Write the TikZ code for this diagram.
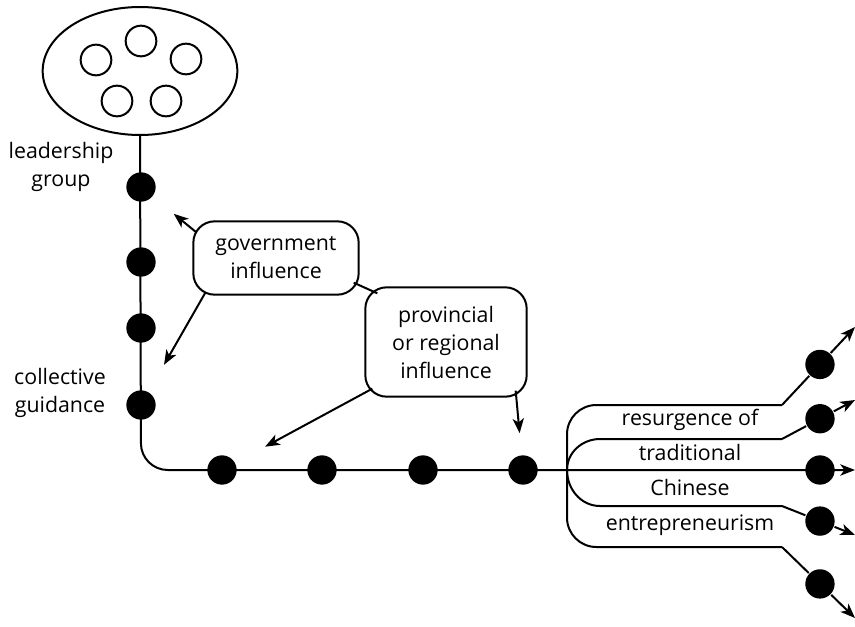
\documentclass[tikz,border=0pt]{standalone}
\usepackage{fontspec}
\setmainfont{Open Sans}
\usepackage{tikz}
\usetikzlibrary{arrows.meta,positioning,calc,shapes.geometric}

\begin{document}
\begin{tikzpicture}[
    x=0.75pt, y=-0.75pt,
    font=\fontsize{16}{21}\selectfont,
    line width=1.5pt,
    dotnode/.style={circle, fill=black, inner sep=0pt, minimum size=22pt},
    ring/.style={circle, draw, inner sep=0pt, minimum size=23pt},
    bubble/.style={draw, rounded corners=16pt, align=center, inner sep=2pt},
    caption/.style={align=center},
    arrow/.style={-{Stealth[length=11pt, width=8.5pt, inset=3pt]}}
  ]
    \useasboundingbox (0,0) rectangle (855,627);

    % leadership group
    \node[ellipse, draw, minimum width=146pt, minimum height=96pt] (group) at (140,71) {};
    \node[ring] (ring1) at (141,41) {};
    \node[ring] (ring2) at (96,60) {};
    \node[ring] (ring3) at (186,59) {};
    \node[ring] (ring4) at (117,101) {};
    \node[ring] (ring5) at (166,101) {};

    % stops on the path
    \node[dotnode] (g1) at (141,187) {};
    \node[dotnode] (g2) at (141,262) {};
    \node[dotnode] (g3) at (141,328) {};
    \node[dotnode] (g4) at (141,405) {};
    \coordinate (corner) at (141,470);
    \node[dotnode] (h1) at (222,470) {};
    \node[dotnode] (h2) at (322,470) {};
    \node[dotnode] (h3) at (423,470) {};
    \node[dotnode] (h4) at (523,470) {};
    \coordinate (split) at (567,470);

    % fan on the right
    \coordinate (bt) at (567,405);
    \coordinate (bb) at (567,547);
    \coordinate (b2) at (600,439);
    \coordinate (b4) at (600,506);
    \coordinate (k1) at (782,405);
    \coordinate (k2) at (782,439);
    \coordinate (k4) at (782,506);
    \coordinate (k5) at (782,547);
    \coordinate (e1) at (855,327);
    \coordinate (e2) at (855,400);
    \coordinate (e3) at (855,470);
    \coordinate (e4) at (855,535);
    \coordinate (e5) at (855,618);
    \node[dotnode] (r1) at ($(k1)!0.52!(e1)$) {};
    \node[dotnode] (r2) at ($(k2)!0.52!(e2)$) {};
    \node[dotnode] (r3) at (820,470) {};
    \node[dotnode] (r4) at ($(k4)!0.52!(e4)$) {};
    \node[dotnode] (r5) at ($(k5)!0.52!(e5)$) {};

    \draw[arrow, rounded corners=20pt] (group.south) -- (corner) -- (e3);
    \draw[rounded corners=22pt] (k1) -- (bt) -- (bb) -- (k5);
    \draw[arrow] (k1) -- (r1) -- (e1);
    \draw[arrow] (k5) -- (r5) -- (e5);
    \draw (split) to[out=90, in=180] (b2) -- (k2);
    \draw[arrow] (k2) -- (r2) -- (e2);
    \draw (split) to[out=-90, in=180] (b4) -- (k4);
    \draw[arrow] (k4) -- (r4) -- (e4);

    % labels
    \node[caption] (lead) at (61,167) {leadership\\group};
    \node[caption] (coll) at (60,393) {collective\\guidance};
    \node[caption, font=\fontsize{16}{26.3}\selectfont] (revival) at (690,472)
      {resurgence of\\traditional\\Chinese\\entrepreneurism};

    % influences
    \node[bubble, minimum width=124pt, minimum height=55pt] (gov) at (276,258)
      {government\\influence};
    \node[bubble, minimum width=121pt, minimum height=82pt] (prov) at (446,342)
      {provincial\\or regional\\influence};
    \draw ([shift={(-6,-13)}]gov.south east) -- ([shift={(13,7)}]prov.north west);
    \draw[arrow, shorten >=20pt] ([shift={(4,12)}]gov.north west) -- (g1);
    \draw[arrow, shorten >=23pt] ([shift={(13,-3)}]gov.south west) -- (g4);
    \draw[arrow, shorten >=25pt] ([shift={(8,-9)}]prov.south west) -- (h1);
    \draw[arrow, shorten >=16pt] ([shift={(-12,-7)}]prov.south east) -- (h4);
\end{tikzpicture}
\end{document}
